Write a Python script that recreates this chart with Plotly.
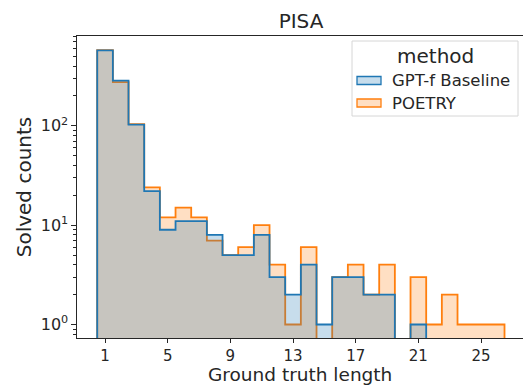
import plotly.graph_objects as go

# ---- data ----
lengths = list(range(1, 27))  # ground truth length bins (centred on integers)
gptf_counts = [575, 285, 103, 22, 9, 11, 11, 8, 5, 5, 8, 3, 2, 4, 1, 3, 3, 2, 2, 0, 1, 0, 0, 0, 0, 0]
poetry_counts = [578, 276, 104, 24, 12, 15, 12, 7, 5, 6, 10, 4, 1, 6, 0, 3, 4, 2, 4, 0, 3, 1, 2, 1, 1, 1]
series_names = ["GPT-f Baseline", "POETRY"]
x_tick_vals = [1, 5, 9, 13, 17, 21, 25]
y_tick_vals = [1, 10, 100]
y_tick_text = ["10<sup>0</sup>", "10<sup>1</sup>", "10<sup>2</sup>"]

BLUE = "#1f77b4"
ORANGE = "#ff7f0e"
BLUE_FILL = "rgba(31,119,180,0.25)"
ORANGE_FILL = "rgba(255,127,14,0.25)"
FONT = "DejaVu Sans"

W, H = 523, 386
L, R, T, B = 77, 0, 36, 48
PW, PH = W - L - R, H - T - B


def step_path(centers, counts, base=1e-3):
    edges = [c - 0.5 for c in centers] + [centers[-1] + 0.5]
    xs, ys = [edges[0]], [base]
    for i, c in enumerate(counts):
        v = c if c > 0 else base
        xs += [edges[i], edges[i + 1]]
        ys += [v, v]
    xs.append(edges[-1])
    ys.append(base)
    return xs, ys


fig = go.Figure()
for name, counts, lc, fc in [
    (series_names[1], poetry_counts, ORANGE, ORANGE_FILL),
    (series_names[0], gptf_counts, BLUE, BLUE_FILL),
]:
    xs, ys = step_path(lengths, counts)
    fig.add_trace(go.Scatter(
        x=xs, y=ys, mode="lines", name=name, fill="toself",
        fillcolor=fc, line=dict(color=lc, width=1.8), showlegend=False,
        hoverinfo="skip",
    ))


def px_x(p):
    return (p - L) / PW


def px_y(p):
    return (H - B - p) / PH


# manual legend (matplotlib-style)
shapes = [dict(type="rect", xref="paper", yref="paper",
               x0=px_x(352), x1=px_x(518), y0=px_y(116), y1=px_y(41),
               line=dict(color="#d6d6d6", width=1), fillcolor="rgba(255,255,255,0.8)", layer="above")]
annotations = [dict(text="method", xref="paper", yref="paper", x=px_x(435), y=px_y(56),
                    xanchor="center", yanchor="middle", showarrow=False,
                    font=dict(family=FONT, size=20, color="#262626"))]
for i, (name, lc, fc) in enumerate([(series_names[0], BLUE, BLUE_FILL), (series_names[1], ORANGE, ORANGE_FILL)]):
    cy = 80.5 + i * 22.5
    shapes.append(dict(type="rect", xref="paper", yref="paper",
                       x0=px_x(357), x1=px_x(381), y0=px_y(cy + 4), y1=px_y(cy - 4),
                       line=dict(color=lc, width=1.3), fillcolor=fc, layer="above"))
    annotations.append(dict(text=name, xref="paper", yref="paper", x=px_x(390), y=px_y(cy),
                            xanchor="left", yanchor="middle", showarrow=False,
                            font=dict(family=FONT, size=16.5, color="#262626")))

# x-axis title placed precisely below the tick labels
annotations.append(dict(text="Ground truth length", xref="paper", yref="paper",
                        x=px_x(300), y=px_y(386.5), xanchor="center", yanchor="bottom",
                        showarrow=False, borderpad=0,
                        font=dict(family=FONT, size=18.5, color="#262626")))

fig.update_layout(
    width=W, height=H,
    margin=dict(l=L, r=R, t=T, b=B, autoexpand=False),
    paper_bgcolor="white", plot_bgcolor="white",
    font=dict(family=FONT, color="#262626"),
    title=dict(text="PISA", x=301 / W, xref="container", xanchor="center",
               y=1 - 20.5 / H, yref="container", yanchor="middle",
               font=dict(family=FONT, size=20, color="#262626")),
    showlegend=False,
    shapes=shapes,
    annotations=annotations,
    xaxis=dict(
        range=[-0.79, 27.68], tickmode="array", tickvals=x_tick_vals,
        ticks="outside", ticklen=3.5, tickwidth=1.1, tickcolor="#262626",
        showline=True, linecolor="#262626", linewidth=1.2, mirror=True,
        showgrid=False, zeroline=False,
        tickfont=dict(family=FONT, size=15, color="#262626"),
    ),
    yaxis=dict(
        type="log", range=[-0.136, 2.905], tickmode="array",
        tickvals=y_tick_vals, ticktext=y_tick_text,
        ticks="outside", ticklen=4.5, tickwidth=1.1, tickcolor="#262626",
        minor=dict(ticks="outside", ticklen=2.5, tickwidth=0.8, tickcolor="#262626", dtick="D1", showgrid=False),
        showline=True, linecolor="#262626", linewidth=1.2, mirror=False,
        showgrid=False, zeroline=False,
        tickfont=dict(family=FONT, size=16, color="#262626"),
        title=dict(text="Solved counts", standoff=3,
                   font=dict(family=FONT, size=20, color="#262626")),
    ),
)

fig.write_html("out.html")
